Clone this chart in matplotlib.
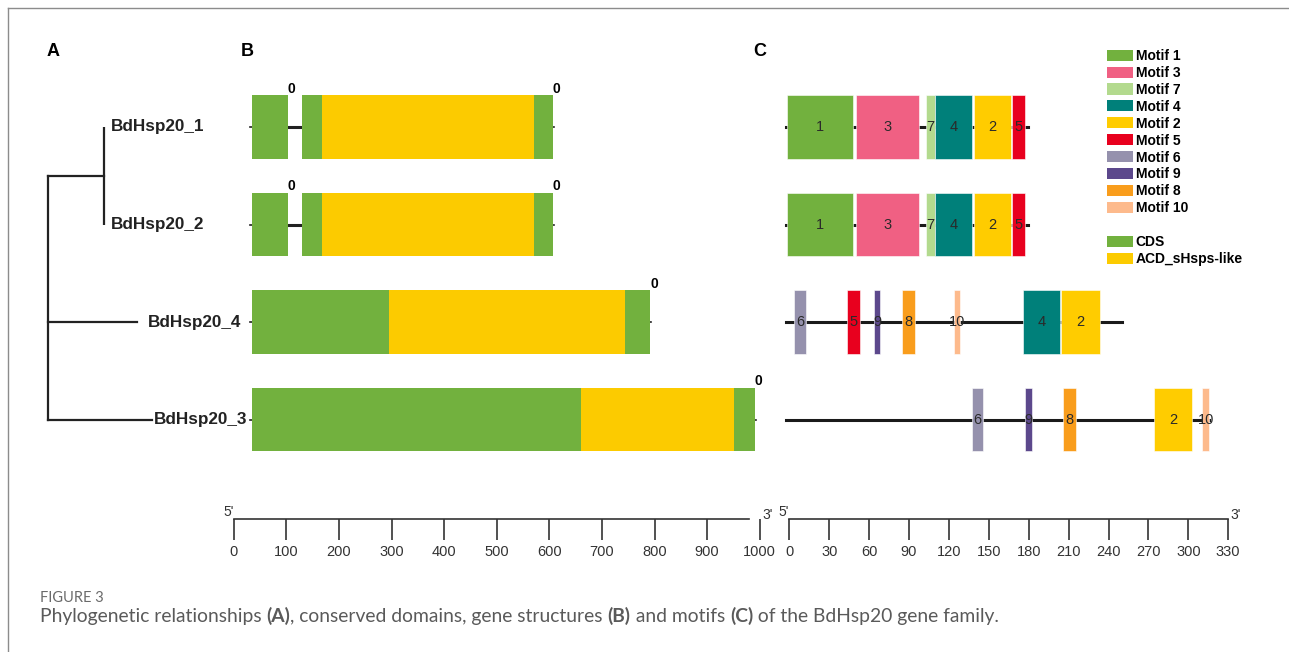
import matplotlib
matplotlib.use('Agg')
import matplotlib.pyplot as plt
from matplotlib.patches import Rectangle, Patch
from matplotlib.lines import Line2D

plt.rcParams['font.family'] = ['Liberation Sans', 'DejaVu Sans']

W, H = 1289, 652

# --- data ---
genes = ['BdHsp20_1', 'BdHsp20_2', 'BdHsp20_4', 'BdHsp20_3']
tree_node12_x = 56
tree_leaf_x = [56, 56, 89, 104]
label_gap = [7, 7, 11, 2]

# gene structure (bp)
exons = [[(35, 103), (130, 607)], [(35, 103), (130, 607)], [(35, 792)], [(35, 991)]]
acd_domain = [(168, 571), (168, 571), (295, 744), (660, 951)]
phase = [[(103, '0'), (607, '0')], [(103, '0'), (607, '0')], [(792, '0')], [(991, '0')]]
bp_ticks = list(range(0, 1001, 100))

# motifs (aa)
protein_len = [182, 182, 253, 318]
motifs = [
    [(1, 1, 50), (3, 53, 100), (7, 105, 112), (4, 112, 140), (2, 141, 169), (5, 170, 180)],
    [(1, 1, 50), (3, 53, 100), (7, 105, 112), (4, 112, 140), (2, 141, 169), (5, 170, 180)],
    [(6, 6, 15), (5, 46, 56), (9, 66, 71), (8, 87, 97), (10, 126, 131), (4, 178, 206), (2, 207, 236)],
    [(6, 140, 148), (9, 180, 185), (8, 208, 218), (2, 277, 305), (10, 313, 318)],
]
aa_ticks = list(range(0, 331, 30))
motif_order = [1, 3, 7, 4, 2, 5, 6, 9, 8, 10]
motif_colors = {1: '#72b13e', 3: '#f06083', 7: '#b3da8e', 4: '#00807a', 2: '#ffcc00',
                5: '#e8001e', 6: '#9591ad', 9: '#5c488c', 8: '#f99d1c', 10: '#fdba8c'}
cds_color = '#72b13e'
acd_color = '#fccb00'

fig = plt.figure(figsize=(W / 100, H / 100), dpi=100)


def px_axes(x0, y0, x1, y1):
    ax = fig.add_axes([x0 / W, 1 - y1 / H, (x1 - x0) / W, (y1 - y0) / H])
    ax.patch.set_alpha(0)
    return ax


# rows: pixel y = 127 + 97.5 * row, axes spanning y 40..480
row_lim = (3.6205, -0.8923)
bar_h = 0.656

# --- A: tree ---
axA = px_axes(0, 40, 250, 480)
axA.set_xlim(-48, 202)
axA.set_ylim(*row_lim)
axA.axis('off')
tc = '#222222'
node12_y = 0.5
axA.plot([tree_node12_x, tree_node12_x], [0, 1], color=tc, lw=1.6, solid_capstyle='butt')
axA.plot([0, tree_node12_x], [node12_y, node12_y], color=tc, lw=1.6)
axA.plot([0, 0], [node12_y, 3], color=tc, lw=1.6, solid_capstyle='projecting')
for i, g in enumerate(genes):
    x0 = tree_node12_x if i < 2 else 0
    if tree_leaf_x[i] > x0:
        axA.plot([x0, tree_leaf_x[i]], [i, i], color=tc, lw=1.6)
    axA.text(tree_leaf_x[i] + label_gap[i], i, g, ha='left', va='center', fontsize=12.3,
             fontweight='bold', color='#222222')

# --- B: gene structures ---
axB = px_axes(200, 40, 800, 480)
axB.set_xlim((200 - 233.7) / 0.526, (800 - 233.7) / 0.526)
axB.set_ylim(*row_lim)
axB.axis('off')
for i in range(len(genes)):
    start = exons[i][0][0]
    end = exons[i][-1][1]
    axB.plot([start - 4, end + 2], [i, i], color='#222222', lw=1.2, zorder=1)
    for k in range(len(exons[i]) - 1):
        axB.plot([exons[i][k][1], exons[i][k + 1][0]], [i, i], color='#222222', lw=2.2, zorder=1)
    for s, e in exons[i]:
        axB.add_patch(Rectangle((s, i - bar_h / 2), e - s, bar_h, facecolor=cds_color,
                                edgecolor='none', zorder=2))
    ds, de = acd_domain[i]
    axB.add_patch(Rectangle((ds, i - bar_h / 2), de - ds, bar_h, facecolor=acd_color,
                            edgecolor='none', zorder=3))
    for px, lab in phase[i]:
        axB.text(px, i - bar_h / 2 + 0.01, lab, ha='left', va='bottom', fontsize=10,
                 fontweight='bold', color='black', zorder=4)

# --- C: motifs ---
axC = px_axes(770, 40, 1250, 480)
axC.set_xlim((770 - 786) / 1.33, (1250 - 786) / 1.33)
axC.set_ylim(*row_lim)
axC.axis('off')
for i in range(len(genes)):
    axC.plot([0, protein_len[i]], [i, i], color='#1a1a1a', lw=2.2, zorder=1)
    for m, s, e in motifs[i]:
        axC.add_patch(Rectangle((s, i - bar_h / 2), e - s, bar_h, facecolor=motif_colors[m],
                                edgecolor='white', lw=0.4, zorder=2))
        axC.text((s + e) / 2, i, str(m), ha='center', va='center', fontsize=10.5,
                 color='#2a2a2a', zorder=3)


# --- scale bars ---
def scale_axis(x0, x1, ticks, line_end, label_size=10.5):
    ax = px_axes(x0, 517, x1, 519)
    ax.set_xlim(ticks[0], ticks[-1])
    ax.set_ylim(0, 1)
    for sp in ['top', 'left', 'right']:
        ax.spines[sp].set_visible(False)
    ax.spines['bottom'].set_bounds(ticks[0], line_end)
    ax.spines['bottom'].set_color('#333333')
    ax.spines['bottom'].set_linewidth(1.2)
    ax.set_yticks([])
    ax.set_xticks(ticks)
    ax.tick_params(axis='x', direction='out', length=15, width=1.2, color='#333333',
                   labelsize=label_size, labelcolor='#333333', pad=4)
    ax.text(ticks[0], 0, "5'", ha='right', va='bottom', fontsize=10, color='#333333')
    ax.text(ticks[-1] * 1.005, -1.5, "3'", ha='left', va='bottom', fontsize=10, color='#333333')
    return ax


scale_axis(233.7, 759.7, bp_ticks, 980)
scale_axis(789.3, 1228.2, aa_ticks, 330)

# --- legend ---
handles = [Patch(facecolor=motif_colors[m], edgecolor='none') for m in motif_order]
labels = ['Motif %d' % m for m in motif_order]
handles += [Patch(facecolor='none', edgecolor='none'),
            Patch(facecolor=cds_color, edgecolor='none'),
            Patch(facecolor=acd_color, edgecolor='none')]
labels += ['', 'CDS', 'ACD_sHsps-like']
fig.legend(handles, labels, loc='upper left', bbox_to_anchor=(1107 / W, 1 - 49 / H),
           bbox_transform=fig.transFigure, frameon=False, borderpad=0, borderaxespad=0,
           handlelength=1.85, handleheight=0.85, handletextpad=0.22, labelspacing=0.21,
           prop={'weight': 'bold', 'size': 10})

# --- panel letters ---
for lab, x in [('A', 47), ('B', 241), ('C', 753)]:
    fig.text(x / W, 1 - 52 / H, lab, ha='left', va='center', fontsize=13, fontweight='bold')

# --- frame and caption ---
fig.add_artist(Line2D([8 / W, 8 / W], [0, 1 - 8 / H], color='#8c8c8c', lw=1))
fig.add_artist(Line2D([8 / W, 1], [1 - 8 / H, 1 - 8 / H], color='#8c8c8c', lw=1))

cap_font = ['Lato', 'DejaVu Sans']
fig.text(40 / W, 1 - 598 / H, 'FIGURE 3', ha='left', va='center', fontsize=10.5,
         color='#6a6a6a', family=cap_font)
parts = [('Phylogenetic relationships ', 'normal'), ('(A)', 'bold'),
         (', conserved domains, gene structures ', 'normal'), ('(B)', 'bold'),
         (' and motifs ', 'normal'), ('(C)', 'bold'), (' of the BdHsp20 gene family.', 'normal')]
cap_y = 1 - 622 / H
prev = fig.text(40 / W, cap_y, parts[0][0], ha='left', va='baseline', fontsize=13.9,
                color='#5a5a5a', family=cap_font, fontweight=parts[0][1])
for txt, wt in parts[1:]:
    prev = axA.annotate(txt, xy=(1, cap_y), xycoords=(prev, 'figure fraction'),
                        ha='left', va='baseline',
                        fontsize=13.9, color='#5a5a5a', family=cap_font,
                        fontweight=wt, annotation_clip=False)

fig.savefig('out.png', dpi=100)
